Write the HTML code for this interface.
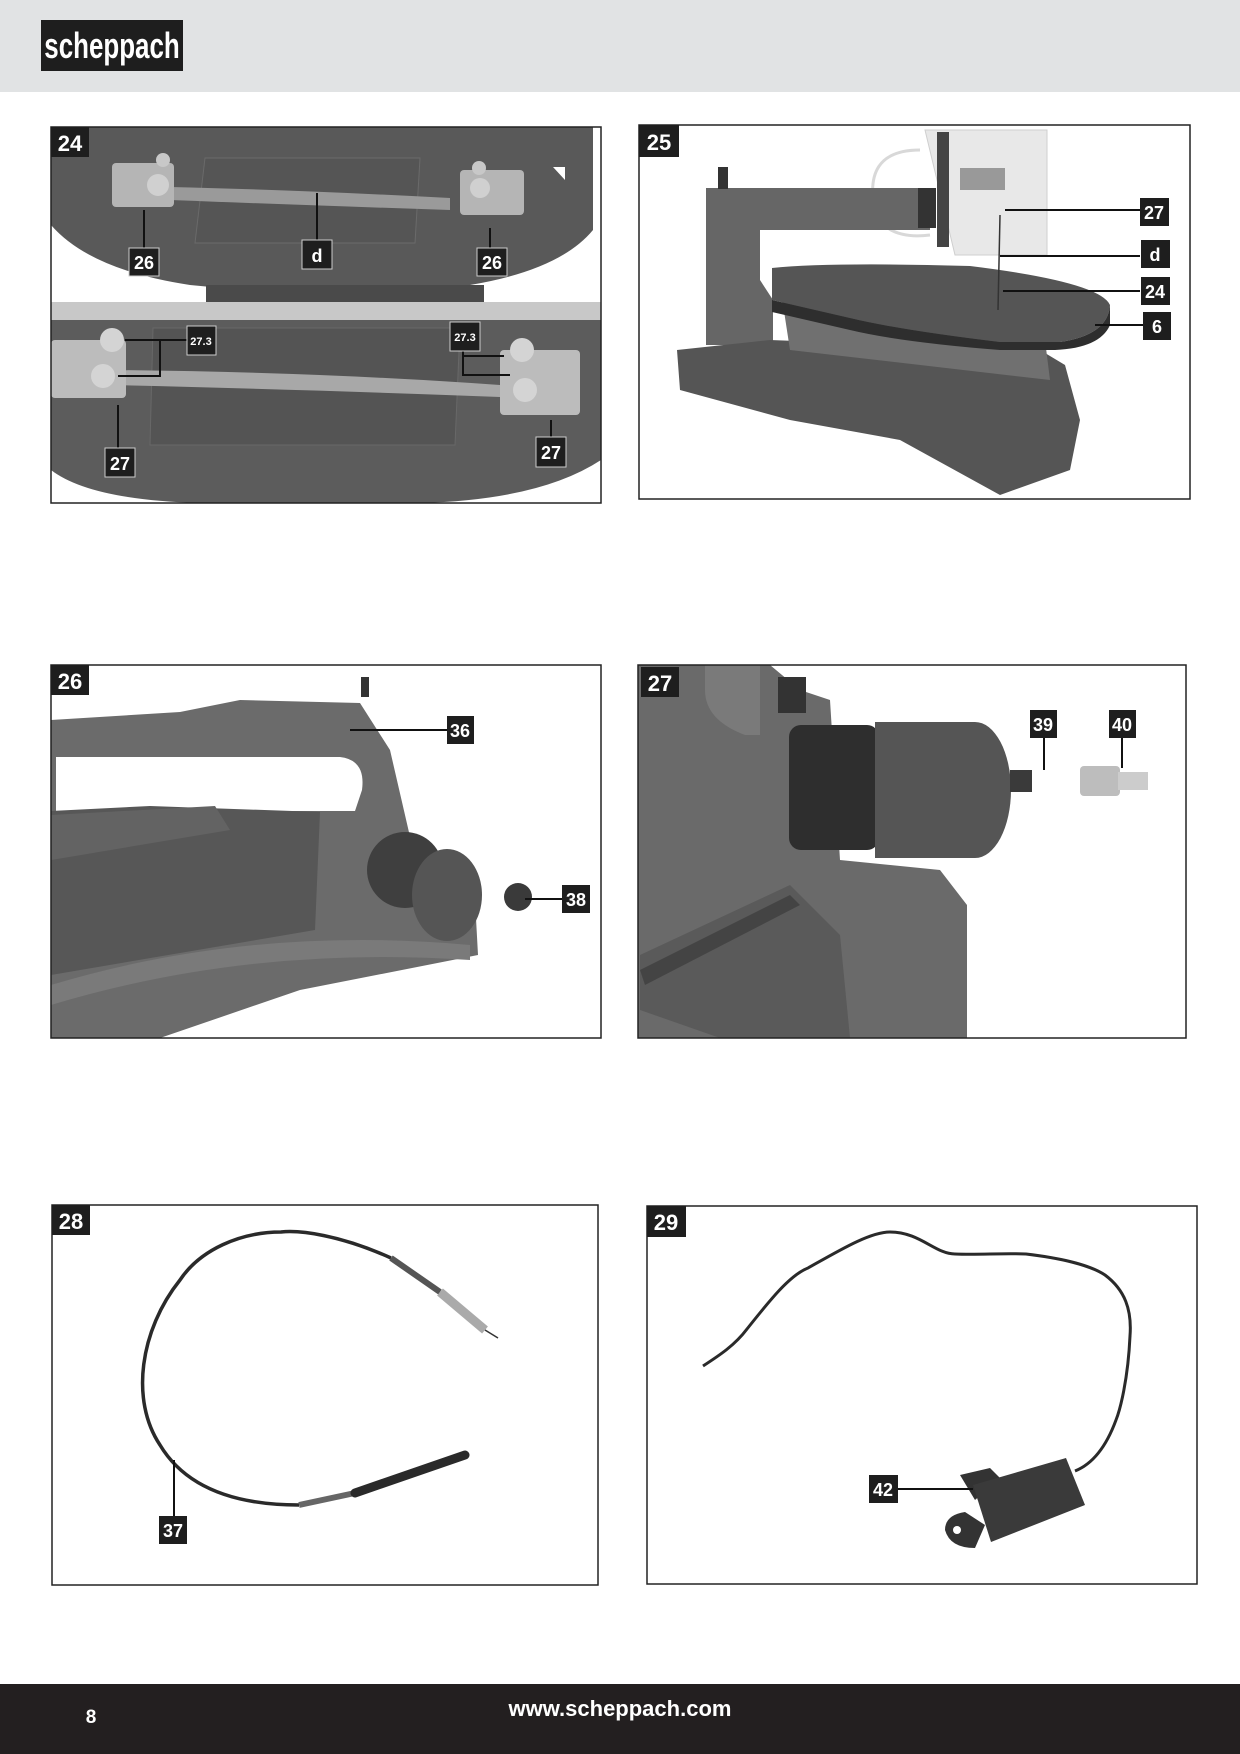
<!DOCTYPE html>
<html><head><meta charset="utf-8"><style>
html,body{margin:0;padding:0;background:#fff}
svg{display:block}
text{font-family:"Liberation Sans",Arial,sans-serif;font-weight:bold;fill:#fff}
</style></head><body>
<svg width="1240" height="1754" viewBox="0 0 1240 1754" xmlns="http://www.w3.org/2000/svg">
<!-- header -->
<rect x="0" y="0" width="1240" height="92" fill="#e1e3e4"/>
<rect x="41" y="20" width="142" height="51" fill="#1e1e1e"/>
<text x="112" y="58" font-size="36" text-anchor="middle" transform="translate(112 0) scale(0.72 1) translate(-112 0)">scheppach</text>

<!-- PANEL 24 -->
<g>
<rect x="51" y="127" width="550" height="376" fill="#fff"/>
<path d="M51 127 H593 V230 Q560 270 470 285 Q330 300 190 285 Q90 270 51 225 Z" fill="#595959"/>
<rect x="206" y="285" width="278" height="17" fill="#4a4a4a"/>
<path d="M205 158 H420 L415 243 H195 Z" fill="#555" stroke="#6a6a6a"/>
<rect x="51" y="302" width="550" height="18" fill="#c8c8c8"/>
<path d="M51 320 H601 V460 Q540 500 420 503 H200 Q90 500 51 470 Z" fill="#5c5c5c"/>
<path d="M153 328 H460 L455 445 H150 Z" fill="#545454" stroke="#686868"/>
<path d="M170 187 Q300 190 450 198 L450 210 Q300 205 170 200 Z" fill="#9a9a9a"/>
<rect x="112" y="163" width="62" height="44" rx="4" fill="#b5b5b5"/>
<circle cx="158" cy="185" r="11" fill="#d0d0d0"/><circle cx="163" cy="160" r="7" fill="#c8c8c8"/>
<rect x="460" y="170" width="64" height="45" rx="4" fill="#b5b5b5"/>
<circle cx="480" cy="188" r="10" fill="#d0d0d0"/><circle cx="479" cy="168" r="7" fill="#c8c8c8"/>
<path d="M110 370 Q320 372 500 385 L500 397 Q320 390 110 385 Z" fill="#a8a8a8"/>
<rect x="51" y="340" width="75" height="58" rx="4" fill="#bcbcbc"/>
<circle cx="112" cy="340" r="12" fill="#d4d4d4"/><circle cx="103" cy="376" r="12" fill="#d4d4d4"/>
<rect x="500" y="350" width="80" height="65" rx="4" fill="#bcbcbc"/>
<circle cx="522" cy="350" r="12" fill="#d4d4d4"/><circle cx="525" cy="390" r="12" fill="#d4d4d4"/>
<path d="M553 167 L565 167 L565 180 Z" fill="#fff"/>
<g stroke="#111" stroke-width="2" fill="none">
<line x1="144" y1="210" x2="144" y2="248"/>
<line x1="317" y1="193" x2="317" y2="240"/>
<line x1="490" y1="228" x2="490" y2="248"/>
<polyline points="125,340 160,340 160,376 118,376"/>
<line x1="160" y1="340" x2="187" y2="340"/>
<polyline points="463,351 463,356 463,375 510,375"/>
<line x1="463" y1="356" x2="504" y2="356"/>
<line x1="118" y1="405" x2="118" y2="448"/>
<line x1="551" y1="420" x2="551" y2="437"/>
</g>
<rect x="51" y="127" width="550" height="376" fill="none" stroke="#222" stroke-width="1.5"/>
<rect x="51" y="127" width="38" height="30" fill="#1e1e1e"/><text x="70" y="151" font-size="22" text-anchor="middle">24</text>
<g font-size="18" text-anchor="middle">
<rect x="129" y="248" width="30" height="28" fill="#1e1e1e" stroke="#ccc"/><text x="144" y="269">26</text>
<rect x="302" y="240" width="30" height="29" fill="#1e1e1e" stroke="#ccc"/><text x="317" y="262">d</text>
<rect x="477" y="248" width="30" height="28" fill="#1e1e1e" stroke="#ccc"/><text x="492" y="269">26</text>
<rect x="187" y="326" width="29" height="29" fill="#1e1e1e" stroke="#ccc"/><text x="201" y="345" font-size="11">27.3</text>
<rect x="450" y="322" width="30" height="29" fill="#1e1e1e" stroke="#ccc"/><text x="465" y="341" font-size="11">27.3</text>
<rect x="105" y="448" width="30" height="29" fill="#1e1e1e" stroke="#ccc"/><text x="120" y="470">27</text>
<rect x="536" y="437" width="30" height="30" fill="#1e1e1e" stroke="#ccc"/><text x="551" y="459">27</text>
</g>
</g>

<!-- PANEL 25 -->
<g>
<rect x="639" y="125" width="551" height="374" fill="#fff"/>
<path d="M925 130 H1047 V255 H955 Z" fill="#e8e8e8" stroke="#cfcfcf"/>
<path d="M920 150 Q860 150 876 215 Q890 240 930 235" fill="none" stroke="#d8d8d8" stroke-width="3"/>
<rect x="937" y="132" width="12" height="115" fill="#444"/>
<rect x="960" y="168" width="45" height="22" fill="#999"/>
<path d="M706 188 H930 V230 H760 V280 L773 300 V345 H706 Z" fill="#666"/>
<rect x="718" y="167" width="10" height="22" fill="#333"/>
<rect x="918" y="188" width="18" height="40" fill="#333"/>
<path d="M677 350 L770 340 L1040 350 L1065 365 L1080 420 L1070 470 L1000 495 L900 440 L790 420 L680 390 Z" fill="#555"/>
<path d="M780 285 L1040 300 L1050 380 L790 350 Z" fill="#707070"/>
<path d="M772 268 Q830 262 970 266 Q1100 282 1110 305 Q1108 335 1060 342 L1000 342 Q900 330 850 318 L772 300 Z" fill="#555"/>
<path d="M772 300 L850 318 Q900 330 1000 342 L1060 342 Q1108 335 1110 305 L1110 325 Q1100 348 1055 350 L1000 350 Q900 342 850 330 L772 312 Z" fill="#2e2e2e"/>
<line x1="1000" y1="215" x2="998" y2="310" stroke="#333" stroke-width="1.5"/>
<g stroke="#111" stroke-width="2">
<line x1="1005" y1="210" x2="1140" y2="210"/>
<line x1="1000" y1="256" x2="1140" y2="256"/>
<line x1="1003" y1="291" x2="1140" y2="291"/>
<line x1="1095" y1="325" x2="1145" y2="325"/>
</g>
<rect x="639" y="125" width="551" height="374" fill="none" stroke="#222" stroke-width="1.5"/>
<rect x="639" y="125" width="40" height="32" fill="#1e1e1e"/><text x="659" y="150" font-size="22" text-anchor="middle">25</text>
<g font-size="18" text-anchor="middle">
<rect x="1140" y="198" width="29" height="28" fill="#1e1e1e"/><text x="1154" y="219">27</text>
<rect x="1141" y="240" width="29" height="28" fill="#1e1e1e"/><text x="1155" y="261">d</text>
<rect x="1141" y="277" width="29" height="28" fill="#1e1e1e"/><text x="1155" y="298">24</text>
<rect x="1143" y="312" width="28" height="28" fill="#1e1e1e"/><text x="1157" y="333">6</text>
</g>
</g>

<!-- PANEL 26 -->
<g>
<rect x="51" y="665" width="550" height="373" fill="#fff"/>
<path d="M51 720 L180 712 L240 700 L360 703 L390 750 L420 880 L475 900 L478 955 L300 990 L160 1038 H51 Z" fill="#6b6b6b"/>
<path d="M56 757 H340 Q366 760 362 790 L355 811 H56 Z" fill="#fff"/>
<path d="M51 811 L150 806 L320 812 L315 930 L51 975 Z" fill="#575757"/>
<path d="M51 815 L215 806 L230 830 L51 860 Z" fill="#636363"/>
<path d="M51 985 Q250 925 470 945 L470 960 Q250 945 51 1005 Z" fill="#7a7a7a"/>
<circle cx="405" cy="870" r="38" fill="#3f3f3f"/>
<ellipse cx="447" cy="895" rx="35" ry="46" fill="#555"/>
<circle cx="518" cy="897" r="14" fill="#3a3a3a"/>
<rect x="361" y="677" width="8" height="20" fill="#333"/>
<g stroke="#111" stroke-width="2">
<line x1="350" y1="730" x2="447" y2="730"/>
<line x1="525" y1="899" x2="562" y2="899"/>
</g>
<rect x="51" y="665" width="550" height="373" fill="none" stroke="#222" stroke-width="1.5"/>
<rect x="51" y="665" width="38" height="30" fill="#1e1e1e"/><text x="70" y="689" font-size="22" text-anchor="middle">26</text>
<g font-size="18" text-anchor="middle">
<rect x="447" y="716" width="27" height="28" fill="#1e1e1e"/><text x="460" y="737">36</text>
<rect x="562" y="885" width="28" height="28" fill="#1e1e1e"/><text x="576" y="906">38</text>
</g>
</g>

<!-- PANEL 27 -->
<g>
<rect x="638" y="665" width="548" height="373" fill="#fff"/>
<path d="M638 665 H770 L800 690 L830 700 L840 860 L940 870 L967 905 L967 1038 H638 Z" fill="#6a6a6a"/>
<path d="M705 665 H760 V735 H745 Q705 720 705 690 Z" fill="#7a7a7a"/>
<rect x="778" y="677" width="28" height="36" fill="#333"/>
<path d="M640 955 L790 885 L840 935 L850 1038 L720 1038 L640 1010 Z" fill="#5a5a5a"/>
<path d="M640 970 L790 895 L800 905 L645 985 Z" fill="#444"/>
<rect x="789" y="725" width="90" height="125" rx="12" fill="#2e2e2e"/>
<ellipse cx="975" cy="790" rx="36" ry="68" fill="#555"/>
<rect x="875" y="722" width="100" height="136" fill="#555"/>
<rect x="1010" y="770" width="22" height="22" fill="#3a3a3a"/>
<rect x="1080" y="766" width="40" height="30" rx="4" fill="#bdbdbd"/>
<rect x="1118" y="772" width="30" height="18" fill="#ccc"/>
<g stroke="#111" stroke-width="2">
<line x1="1044" y1="737" x2="1044" y2="770"/>
<line x1="1122" y1="737" x2="1122" y2="768"/>
</g>
<rect x="638" y="665" width="548" height="373" fill="none" stroke="#222" stroke-width="1.5"/>
<rect x="641" y="667" width="38" height="30" fill="#1e1e1e"/><text x="660" y="691" font-size="22" text-anchor="middle">27</text>
<g font-size="18" text-anchor="middle">
<rect x="1030" y="710" width="27" height="28" fill="#1e1e1e"/><text x="1043" y="731">39</text>
<rect x="1109" y="710" width="27" height="28" fill="#1e1e1e"/><text x="1122" y="731">40</text>
</g>
</g>

<!-- PANEL 28 -->
<g>
<rect x="52" y="1205" width="546" height="380" fill="#fff" stroke="#222" stroke-width="1.5"/>
<path d="M391 1258 C340 1235 300 1230 281 1232 C240 1232 200 1250 180 1280 C140 1330 130 1400 160 1445 C190 1495 250 1505 299 1505" fill="none" stroke="#2a2a2a" stroke-width="3.5"/>
<path d="M391 1258 L440 1292" stroke="#555" stroke-width="6"/>
<path d="M440 1292 L485 1330" stroke="#aaa" stroke-width="9"/>
<path d="M485 1330 L498 1338" stroke="#333" stroke-width="1.5"/>
<path d="M299 1505 L355 1493" stroke="#666" stroke-width="6"/>
<path d="M355 1493 L465 1455" stroke="#2a2a2a" stroke-width="9" stroke-linecap="round"/>
<line x1="174" y1="1460" x2="174" y2="1516" stroke="#111" stroke-width="2"/>
<rect x="52" y="1205" width="38" height="30" fill="#1e1e1e"/><text x="71" y="1229" font-size="22" text-anchor="middle">28</text>
<rect x="159" y="1516" width="28" height="28" fill="#1e1e1e"/><text x="173" y="1537" font-size="18" text-anchor="middle">37</text>
</g>

<!-- PANEL 29 -->
<g>
<rect x="647" y="1206" width="550" height="378" fill="#fff" stroke="#222" stroke-width="1.5"/>
<path d="M703 1366 C720 1355 735 1345 747 1329 C770 1300 790 1275 808 1268 C840 1250 870 1232 890 1232 C920 1232 935 1254 955 1254 C980 1255 1000 1253 1026 1254 C1060 1258 1090 1265 1105 1275 C1125 1290 1132 1310 1130 1336 C1128 1380 1120 1410 1116 1420 C1105 1450 1090 1465 1075 1471" fill="none" stroke="#2a2a2a" stroke-width="3"/>
<path d="M960 1475 L990 1468 L1000 1478 L975 1500 Z" fill="#333"/>
<path d="M945 1530 Q945 1515 965 1512 L985 1525 L975 1548 Q950 1548 945 1530 Z" fill="#333"/>
<circle cx="957" cy="1530" r="4" fill="#fff"/>
<path d="M973 1485 L1066 1458 L1085 1505 L991 1542 Z" fill="#3a3a3a"/>
<line x1="898" y1="1489" x2="973" y2="1489" stroke="#111" stroke-width="2"/>
<rect x="647" y="1206" width="39" height="31" fill="#1e1e1e"/><text x="666" y="1230" font-size="22" text-anchor="middle">29</text>
<rect x="869" y="1475" width="29" height="28" fill="#1e1e1e"/><text x="883" y="1496" font-size="18" text-anchor="middle">42</text>
</g>

<!-- footer -->
<rect x="0" y="1684" width="1240" height="70" fill="#231f20"/>
<text x="91" y="1723" font-size="19" font-weight="normal" text-anchor="middle">8</text>
<text x="620" y="1716" font-size="22" text-anchor="middle">www.scheppach.com</text>
</svg>
</body></html>
